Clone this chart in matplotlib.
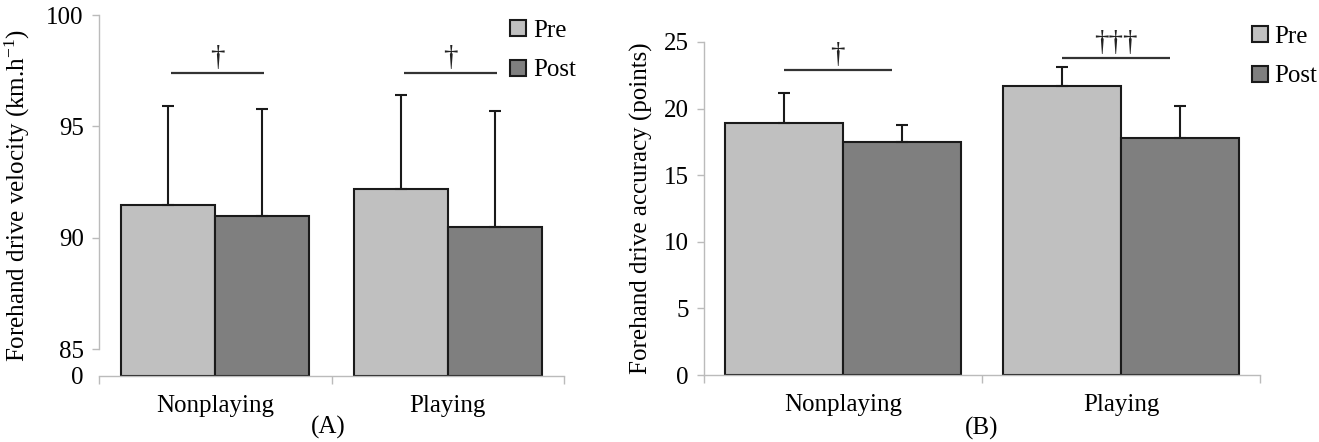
import matplotlib
matplotlib.use("Agg")
import matplotlib.pyplot as plt
import numpy as np

plt.rcParams["font.family"] = ["Liberation Serif", "DejaVu Serif"]
plt.rcParams["mathtext.default"] = "regular"

# Data (means and SD)
groups = ["Nonplaying", "Playing"]

vel_pre = [91.5, 92.2]
vel_pre_sd = [4.4, 4.2]
vel_post = [91.0, 90.5]
vel_post_sd = [4.8, 5.2]
vel_sig = ["\u2020", "\u2020"]
vel_sig_y = [97.4, 97.4]

acc_pre = [18.9, 21.7]
acc_pre_sd = [2.3, 1.4]
acc_post = [17.5, 17.8]
acc_post_sd = [1.3, 2.4]
acc_sig = ["\u2020", "\u2020\u2020\u2020"]
acc_sig_y = [22.9, 23.8]

PRE_C = "#C0C0C0"
POST_C = "#7F7F7F"
EDGE = "#1a1a1a"
AXC = "#BBBBBB"
FS = 18

W, H = 1319, 442
fig = plt.figure(figsize=(W / 100, H / 100), dpi=100)


def px_axes(left, top, right, bottom):
    return fig.add_axes([left / W, 1 - bottom / H, (right - left) / W, (bottom - top) / H])


def draw_panel(ax, pre, pre_sd, post, post_sd, base, width, sig, sig_y, sig_span):
    x = np.arange(len(groups))
    pre = np.array(pre)
    post = np.array(post)
    b1 = ax.bar(x - width / 2, pre - base, width, bottom=base, color=PRE_C,
                edgecolor=EDGE, linewidth=1.5, label="Pre", zorder=2)
    b2 = ax.bar(x + width / 2, post - base, width, bottom=base, color=POST_C,
                edgecolor=EDGE, linewidth=1.5, label="Post", zorder=2)
    zeros = np.zeros(len(x))
    ax.errorbar(x - width / 2, pre, yerr=[zeros, pre_sd], fmt="none", ecolor=EDGE,
                elinewidth=1.5, capsize=4.3, capthick=1.5, zorder=3)
    ax.errorbar(x + width / 2, post, yerr=[zeros, post_sd], fmt="none", ecolor=EDGE,
                elinewidth=1.5, capsize=4.3, capthick=1.5, zorder=3)

    # significance bars
    for xi, s, sy in zip(x, sig, sig_y):
        x0, x1 = xi + sig_span[0], xi + sig_span[1]
        ax.plot([x0, x1], [sy, sy], color="#333333", lw=1.6, solid_capstyle="butt", zorder=3)
        ax.annotate(s, ((x0 + x1) / 2, sy), xytext=(0, 1.5), textcoords="offset points",
                    ha="center", va="bottom", fontsize=21, color="#222222")

    ax.set_xlim(-0.5, len(groups) - 0.5)
    ax.set_xticks(np.arange(len(groups) + 1) - 0.5)
    ax.set_xticklabels([])
    ax.set_xticks(x, minor=True)
    ax.set_xticklabels(groups, minor=True, fontsize=FS)
    ax.tick_params(axis="x", which="major", direction="out", length=6, width=1, color=AXC)
    ax.tick_params(axis="x", which="minor", length=0, pad=14)
    ax.tick_params(axis="y", direction="out", length=5, width=1, color=AXC,
                   labelsize=FS, pad=6)
    for sp in ["top", "right"]:
        ax.spines[sp].set_visible(False)
    for sp in ["left", "bottom"]:
        ax.spines[sp].set_color(AXC)
        ax.spines[sp].set_linewidth(1)
    return b1, b2


# Panel A: velocity, broken axis (0 then 85-100)
axA = px_axes(99, 15, 564, 376)
base_a = 83.81
b1, b2 = draw_panel(axA, vel_pre, vel_pre_sd, vel_post, vel_post_sd, base_a, 0.404,
                    vel_sig, vel_sig_y, (-0.19, 0.21))
axA.set_ylim(base_a, 100)
axA.set_yticks([base_a, 85, 90, 95, 100])
axA.set_yticklabels(["0", "85", "90", "95", "100"])
axA.yaxis.get_major_ticks()[0].tick1line.set_visible(False)
axA.spines["left"].set_bounds(85, 100)
axA.set_ylabel(r"Forehand drive velocity (km.h$^{-1}$)", fontsize=FS)
axA.yaxis.set_label_coords(32 / W, 0.5 * (1 - 376 / H) + 0.5 * (1 - 15 / H),
                           transform=fig.transFigure)
axA.legend(handles=[b1, b2], loc="upper left", bbox_to_anchor=(510 / W, 1 - 20 / H),
           bbox_transform=fig.transFigure, frameon=False, fontsize=FS,
           handlelength=0.62, handleheight=0.62, handletextpad=0.3,
           labelspacing=0.7, borderpad=0, borderaxespad=0)

# Panel B: accuracy
axB = px_axes(704, 42, 1260, 375)
c1, c2 = draw_panel(axB, acc_pre, acc_pre_sd, acc_post, acc_post_sd, 0, 0.425,
                    acc_sig, acc_sig_y, (-0.2125, 0.175))
axB.set_ylim(0, 25)
axB.set_yticks([0, 5, 10, 15, 20, 25])
axB.set_ylabel("Forehand drive accuracy (points)", fontsize=FS)
axB.yaxis.set_label_coords(653 / W, 0.5 * (1 - 375 / H) + 0.5 * (1 - 42 / H),
                           transform=fig.transFigure)
axB.legend(handles=[c1, c2], loc="upper left", bbox_to_anchor=(1252 / W, 1 - 26 / H),
           bbox_transform=fig.transFigure, frameon=False, fontsize=FS,
           handlelength=0.62, handleheight=0.62, handletextpad=0.25,
           labelspacing=0.7, borderpad=0, borderaxespad=0)

fig.text(328 / W, 1 - 427 / H, "(A)", ha="center", va="center", fontsize=FS)
fig.text(982 / W, 1 - 428 / H, "(B)", ha="center", va="center", fontsize=FS)

fig.savefig("out.png", dpi=100, facecolor="white")
